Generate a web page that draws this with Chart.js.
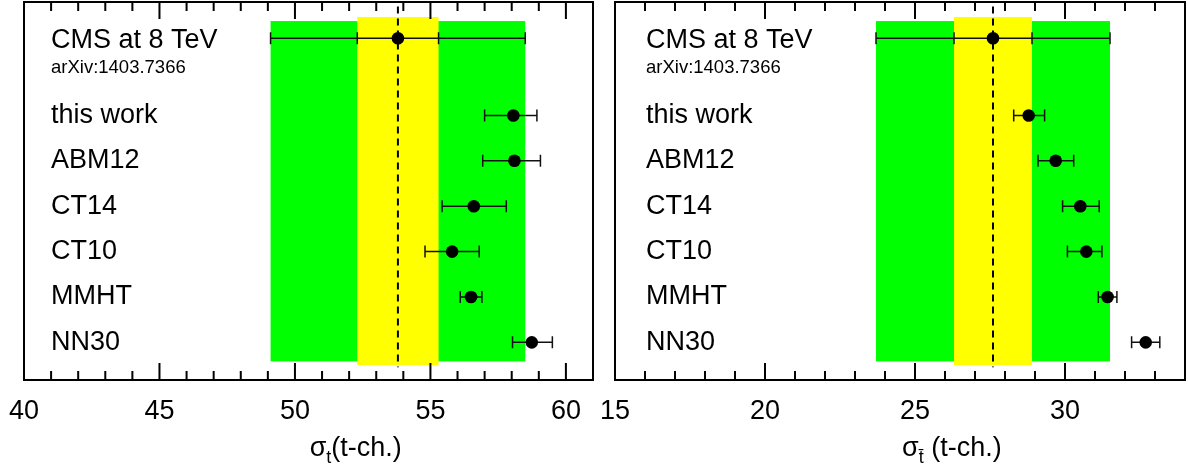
<!DOCTYPE html>
<html>
<head>
<meta charset="utf-8">
<script src="https://cdn.jsdelivr.net/npm/chart.js@4.4.1/dist/chart.umd.min.js"></script>
<style>
  body { margin: 0; background: #fff; }
  #left { position: absolute; left: 0; top: 0; width: 600px; height: 471px; }
  #right { position: absolute; left: 600px; top: 0; width: 588px; height: 471px; }
</style>
</head>
<body>
<div id="left"><canvas id="chartT"></canvas></div>
<div id="right"><canvas id="chartTbar"></canvas></div>
<script>
// rows, bottom to top
const rowNames = ['NN30', 'MMHT', 'CT10', 'CT14', 'ABM12', 'this work'];
const rowPos = [0, 1, 2, 3, 4, 5];
const cmsRow = 6.7;
const cmsTitle = 'CMS at 8 TeV';
const cmsRef = 'arXiv:1403.7366';

// top quark, t-channel
const tCentral = [58.74, 56.5, 55.8, 56.6, 58.1, 58.06];
const tLow = [58.03, 56.1, 54.8, 55.43, 56.93, 57.0];
const tHigh = [59.5, 56.9, 56.8, 57.8, 59.06, 58.93];
const tCms = 53.8;
const tCmsStat = [52.3, 55.3];
const tCmsTotal = [49.1, 58.5];
const tRange = [40, 61];
const tTickLabels = [40, 45, 50, 55, 60];

// anti-top quark, t-channel
const tbarCentral = [32.69, 31.42, 30.71, 30.51, 29.69, 28.79];
const tbarLow = [32.22, 31.11, 30.08, 29.92, 29.1, 28.29];
const tbarHigh = [33.16, 31.73, 31.23, 31.14, 30.29, 29.32];
const tbarCms = 27.6;
const tbarCmsStat = [26.3, 28.9];
const tbarCmsTotal = [23.7, 31.5];
const tbarRange = [15, 34];
const tbarTickLabels = [15, 20, 25, 30];

const FONT = 'Liberation Sans, Arial, sans-serif';

const panelPlugin = {
    id: 'panel',
    beforeDatasetsDraw(chart, args, o) {
        const { ctx } = chart;
        const x = chart.scales.x, y = chart.scales.y;
        ctx.save();
        const box = (lo, hi, r0, r1, color) => {
            const x0 = x.getPixelForValue(lo), x1 = x.getPixelForValue(hi);
            const y0 = y.getPixelForValue(r1), y1 = y.getPixelForValue(r0);
            ctx.fillStyle = color;
            ctx.fillRect(x0, y0, x1 - x0, y1 - y0);
        };
        box(o.total[0], o.total[1], -0.42, 7.08, '#00ff00');
        box(o.stat[0], o.stat[1], -0.5, 7.17, '#ffff00');

        // dashed central line
        const xc = x.getPixelForValue(o.central);
        ctx.strokeStyle = '#000';
        ctx.lineWidth = 2;
        ctx.setLineDash([7, 5]);
        ctx.beginPath();
        ctx.moveTo(xc, y.getPixelForValue(7.4));
        ctx.lineTo(xc, y.getPixelForValue(-0.55));
        ctx.stroke();
        ctx.setLineDash([]);

        // error bars
        ctx.lineWidth = 1.5;
        ctx.strokeStyle = '#111';
        const hbar = (lo, hi, r, caps) => {
            const py = y.getPixelForValue(r);
            ctx.beginPath();
            ctx.moveTo(x.getPixelForValue(lo), py);
            ctx.lineTo(x.getPixelForValue(hi), py);
            caps.forEach(c => {
                const px = x.getPixelForValue(c);
                ctx.moveTo(px, py - 6);
                ctx.lineTo(px, py + 6);
            });
            ctx.stroke();
        };
        rowPos.forEach((r, i) => hbar(o.low[i], o.high[i], r, [o.low[i], o.high[i]]));
        hbar(o.total[0], o.total[1], cmsRow, [o.total[0], o.stat[0], o.stat[1], o.total[1]]);
        ctx.restore();
    },
    afterDraw(chart, args, o) {
        const { ctx, chartArea: a } = chart;
        const x = chart.scales.x, y = chart.scales.y;
        ctx.save();

        // inward tick marks, bottom and top
        ctx.strokeStyle = '#000';
        ctx.lineWidth = 2;
        ctx.beginPath();
        x.ticks.forEach(t => {
            const px = x.getPixelForValue(t.value);
            const len = t.value % 5 === 0 ? 17 : 9;
            ctx.moveTo(px, a.bottom);
            ctx.lineTo(px, a.bottom - len);
            ctx.moveTo(px, a.top);
            ctx.lineTo(px, a.top + len);
        });
        ctx.stroke();
        ctx.strokeRect(a.left, a.top, a.right - a.left, a.bottom - a.top);

        // row labels
        ctx.fillStyle = '#000';
        ctx.textAlign = 'left';
        ctx.textBaseline = 'middle';
        const lx = a.left + o.labelInset;
        ctx.font = '27px ' + FONT;
        rowNames.forEach((n, i) => ctx.fillText(n, lx, y.getPixelForValue(rowPos[i])));
        const cy = y.getPixelForValue(cmsRow);
        ctx.fillText(cmsTitle, lx, cy + 2);
        ctx.font = '18.5px ' + FONT;
        ctx.fillText(cmsRef, lx, cy + 30);

        // axis title: sigma with subscript
        ctx.textBaseline = 'alphabetic';
        const big = '27px ' + FONT, small = '18px ' + FONT;
        ctx.font = big;
        const w1 = ctx.measureText('σ').width;
        const w3 = ctx.measureText(o.titleTail).width;
        ctx.font = small;
        const w2 = ctx.measureText(o.titleSub).width;
        const total = w1 + w2 + w3;
        let tx = a.left + (a.right - a.left) * o.titleFrac - total / 2;
        const ty = 456;
        ctx.font = big;
        ctx.fillText('σ', tx, ty);
        tx += w1;
        ctx.font = small;
        ctx.fillText(o.titleSub, tx, ty + 7);
        tx += w2;
        ctx.font = big;
        ctx.fillText(o.titleTail, tx, ty);
        ctx.restore();
    }
};

function makePanel(id, cfg) {
    const points = rowPos.map((r, i) => ({ x: cfg.central[i], y: r }));
    points.push({ x: cfg.cms, y: cmsRow });
    return new Chart(document.getElementById(id), {
        type: 'scatter',
        data: {
            datasets: [{
                data: points,
                pointRadius: 6.3,
                pointHoverRadius: 6.3,
                backgroundColor: '#000',
                borderWidth: 0,
                clip: false
            }]
        },
        plugins: [panelPlugin],
        options: {
            responsive: true,
            maintainAspectRatio: false,
            animation: false,
            events: [],
            layout: { padding: cfg.padding, autoPadding: false },
            scales: {
                x: {
                    type: 'linear',
                    min: cfg.range[0],
                    max: cfg.range[1],
                    grid: { display: false, drawTicks: false },
                    border: { display: false },
                    afterFit: s => { s.paddingLeft = 0; s.paddingRight = 0; s.height = 46; },
                    ticks: {
                        stepSize: 1,
                        autoSkip: false,
                        maxRotation: 0,
                        padding: 15,
                        color: '#000',
                        font: { family: FONT, size: 27 },
                        callback: v => cfg.tickLabels.includes(v) ? String(v) : ''
                    }
                },
                y: {
                    type: 'linear',
                    display: false,
                    min: -0.83,
                    max: 7.5
                }
            },
            plugins: {
                legend: { display: false },
                tooltip: { enabled: false },
                panel: {
                    central: cfg.cms,
                    stat: cfg.stat,
                    total: cfg.total,
                    low: cfg.low,
                    high: cfg.high,
                    labelInset: cfg.labelInset,
                    titleSub: cfg.titleSub,
                    titleTail: cfg.titleTail,
                    titleFrac: cfg.titleFrac
                }
            }
        }
    });
}

makePanel('chartT', {
    central: tCentral, low: tLow, high: tHigh,
    cms: tCms, stat: tCmsStat, total: tCmsTotal,
    range: tRange, tickLabels: tTickLabels,
    padding: { left: 24, right: 7, top: 2, bottom: 45 },
    labelInset: 27,
    titleSub: 't', titleTail: '(t-ch.)', titleFrac: 0.583
});

makePanel('chartTbar', {
    central: tbarCentral, low: tbarLow, high: tbarHigh,
    cms: tbarCms, stat: tbarCmsStat, total: tbarCmsTotal,
    range: tbarRange, tickLabels: tbarTickLabels,
    padding: { left: 15, right: 3, top: 2, bottom: 45 },
    labelInset: 31,
    titleSub: 't\u0304', titleTail: ' (t-ch.)', titleFrac: 0.591
});
</script>
</body>
</html>
